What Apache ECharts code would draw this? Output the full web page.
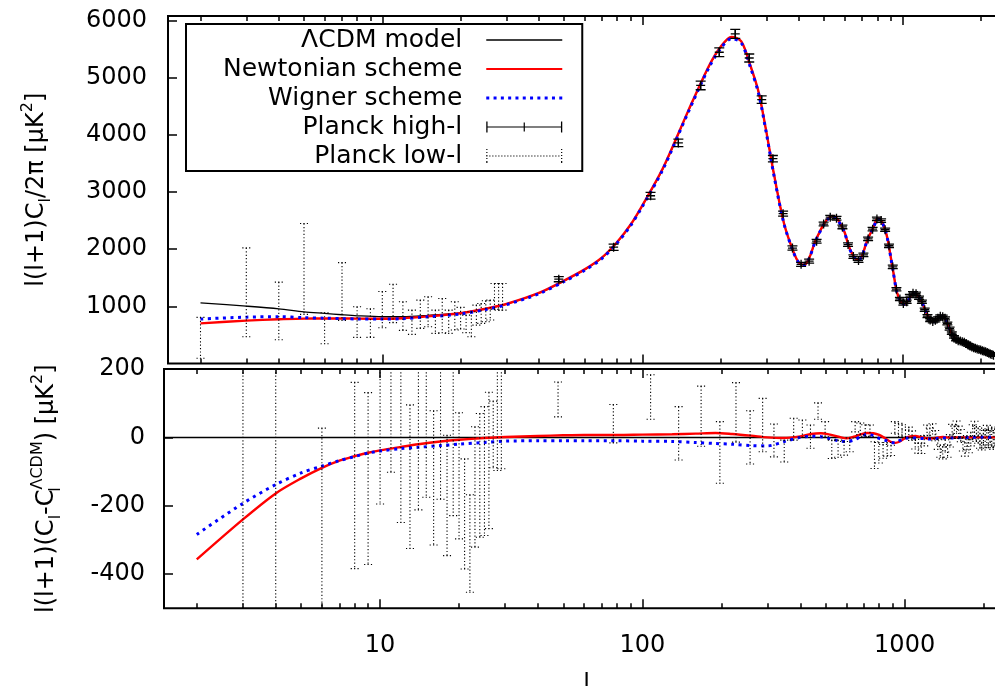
<!DOCTYPE html>
<html><head><meta charset="utf-8">
<script src="https://cdn.jsdelivr.net/npm/echarts@6/dist/echarts.min.js"></script>
<style>html,body{margin:0;padding:0;background:#fff}#c{width:995px;height:686px}</style>
</head><body><div id="c"></div>
<script>
// ---------- data ----------
const curveL = [2,3,4,5,6,7,8,10,12,15,20,25,30,40,50,60,70,80,90,100,120,150,180,200,220,240,260,280,300,320,350,380,400,420,440,460,480,500,520,540,560,580,600,620,640,660,680,700,720,740,760,780,800,820,840,860,880,900,920,950,980,1000,1020,1050,1080,1110,1140,1170,1200,1230,1260,1290,1320,1350,1380,1420,1450,1480,1510,1550,1600,1650,1700,1750,1800,1850,1900,1950,2000,2100,2200,2300];
const lcdm = [1062,1004,957,905,877,853,835,818,818,842,886,960,1040,1230,1445,1640,1850,2120,2420,2760,3410,4410,5190,5530,5705,5630,5210,4740,4040,3330,2460,1965,1760,1720,1860,2110,2290,2440,2540,2575,2535,2430,2290,2070,1920,1830,1810,1880,2050,2200,2300,2420,2530,2525,2450,2330,2150,1890,1640,1270,1110,1055,1040,1100,1190,1225,1195,1125,1030,920,810,745,735,760,800,822,800,730,620,520,430,398,382,356,322,292,270,250,235,200,158,130];
const newtonian = [702,750,775,785,788,788,785,782,792,826,879,958,1041,1234,1451,1647,1857,2127,2427,2768,3419,4420,5202,5543,5715,5637,5215,4743,4040,3329,2459,1966,1763,1728,1870,2121,2302,2450,2548,2580,2537,2428,2287,2068,1922,1836,1819,1891,2063,2213,2312,2430,2537,2528,2448,2322,2138,1876,1624,1256,1102,1052,1040,1103,1194,1229,1197,1126,1028,917,806,742,733,759,800,823,800,729,619,520,430,398,382,356,322,292,270,250,235,200,158,130];
const wigner = [778,811,819,801,793,785,779,778,785,817,866,945,1029,1220,1435,1630,1840,2110,2410,2749,3398,4396,5173,5511,5685,5608,5186,4715,4015,3305,2450,1960,1760,1723,1863,2112,2292,2438,2536,2568,2525,2419,2278,2060,1912,1830,1812,1888,2059,2207,2305,2420,2527,2519,2442,2318,2136,1874,1624,1260,1103,1052,1038,1098,1188,1223,1192,1122,1026,915,805,741,731,757,798,820,798,728,618,519,429,398,382,356,322,292,270,250,235,200,158,130];

// residual curves (bottom panel)
const resL = [2,3,4,5,6,7,8,9,10,12,14,17,20,25,30,40,50,60,80,100,130,160,190,220,260,300,345,400,440,480,520,560,600,640,680,720,760,800,840,880,920,960,1000,1050,1100,1150,1200,1250,1300,1400,1500,1600,1800,2000,2200,2400];
const resNewtonian = [-357,-240,-164,-120,-89,-68,-55,-45,-38,-28,-20,-12,-7,-2,1,4,6,7,7,8,9,11,13,10,5,0,-2,3,10,12,8,2,-3,2,9,13,12,7,-2,-12,-16,-12,-3,3,4,1,-2,-4,-2,1,-1,0,0,0,0,0];
const resWigner = [-284,-193,-138,-104,-84,-68,-56,-46,-40,-33,-29,-24,-20,-15,-11,-10,-10,-10,-10,-11,-12,-15,-18,-20,-24,-25,-13,0,3,2,-4,-10,-12,-8,2,9,5,-3,-8,-14,-16,-9,-3,-2,-2,-3,-4,-5,-4,-2,-2,-1,0,0,0,0];

// Planck high-l binned (top panel)
const hiL = [47.7,77.5,107.5,137.5,167.5,197.5,227.5,257.5,287.5,317.5,347.5,377.5,407.5,437.5,467.5,497.5,527.5,557.5,587.5,617.5,647.5,677.5,707.5,737.5,767.5,797.5,827.5,857.5,887.5,917.5,947.5,977.5,1007.5,1037.5,1067.5,1097.5,1127.5,1157.5,1187.5,1217.5,1247.5,1277.5,1307.5,1337.5,1367.5,1397.5,1427.5,1457.5,1487.5,1517.5,1547.5,1577.5,1607.5,1637.5,1667.5,1697.5,1727.5,1757.5,1787.5,1817.5,1847.5,1877.5,1907.5,1937.5,1967.5,1997.5,2027.5,2057.5,2087.5,2117.5,2147.5,2177.5,2207.5,2237.5];
const hiV = [1475,2035,2935,3860,4865,5446,5768,5345,4617,3584,2622,2020,1735,1790,2140,2440,2560,2540,2390,2080,1870,1800,1900,2180,2350,2530,2500,2340,2060,1690,1300,1130,1050,1080,1180,1230,1220,1150,1080,940,830,760,735,755,790,825,820,790,700,610,530,465,420,400,395,380,370,350,325,305,290,275,265,255,245,235,225,215,205,192,180,168,158,145];
const hiE = [45,55,60,65,75,78,78,70,65,55,45,38,35,35,33,33,33,33,32,32,30,30,30,30,30,30,30,30,30,30,28,28,28,28,28,28,28,28,28,28,25,25,25,25,25,25,25,25,25,25,22,22,22,22,22,22,22,22,22,22,22,22,22,22,22,22,22,22,22,22,22,22,22,22];

// Planck low-l (top panel): lower / upper ends of bars
const lowL = [2,3,4,5,6,7,8,9,10,11,12,13,14,15,16,17,18,19,20,21,22,23,24,25,26,27,28,29];
const lowLo = [91,469,416,859,345,755,457,457,625,716,580,510,615,643,527,538,527,585,603,538,469,672,702,730,760,947,934,934];
const lowHi = [807,2023,1424,2449,888,1765,993,958,1260,1386,1080,934,1109,1167,934,1138,934,1080,982,847,905,1022,1051,1097,1109,1401,1401,1401];

// residual data (bottom panel)
const resLowL = [3,4,6,8,9,10,11,12,13,14,15,16,17,18,19,20,21,22,23,24,25,26,27,28,29];
const resLowLo = [-700,-700,-700,-384,-372,-195,-102,-249,-325,-212,-175,-315,-181,-346,-229,-297,-385,-453,-321,-292,-287,-267,-89,-97,-92];
const resLowHi = [300,300,27,161,131,300,300,300,95,300,300,78,300,6,300,72,-63,-168,31,70,90,132,106,300,300];
const resHiC = [111,40,118,12,62,-44,73,0,36,-9,-40,24,26,2,77,24,-35,-33,-32,-22,31,25,20,19,-52,-45,-41,-35,-38,29,25,20,10,15,5,-20,-31,-32,-10,21,12,25,5,-20,-40,-45,-25,-40,-10,20,15,30,15,5,-20,-35,-15,-25,-5,15,25,10,5,-10,-15,0,-5,10,0,-5,5,-10,0,-5];
const resHiE = [51,56,65,78,88,90,87,78,78,48,32,32,25,34,24,22,27,25,20,20,15,17,17,17,39,30,20,20,15,17,16,17,12,15,14,14,15,15,15,15,15,15,15,15,18,18,18,18,18,18,18,18,18,18,20,20,20,20,20,22,22,22,22,22,22,22,25,25,25,25,25,25,25,25];

// tick values
const xMajor = [10,100,1000];
const xMinor = [2,3,4,5,6,7,8,9,20,30,40,50,60,70,80,90,200,300,400,500,600,700,800,900,2000];
const yTopTicks = [1000,2000,3000,4000,5000,6000];
const yBotTicks = [-400,-200,0,200];

// ---------- chart ----------
const FONT = 'DejaVu Sans';
const chart = echarts.init(document.getElementById('c'), null, {renderer:'canvas'});
const plain = v => String(v);

function xAx(grid, pos, vals, len, extra) {
  return Object.assign({
    type:'log', logBase:10, gridIndex:grid, position:pos, min:1.5, max:2500,
    axisLine:{show:false, onZero:false}, splitLine:{show:false},
    axisTick:{show:true, inside:true, length:len, customValues:vals, lineStyle:{color:'#000', width:1.5}},
    axisLabel:{show:false}
  }, extra || {});
}

const richName = {
  m:{fontSize:24, fontFamily:FONT, color:'#000', lineHeight:34},
  sub:{fontSize:16, fontFamily:FONT, color:'#000', lineHeight:17, verticalAlign:'bottom'},
  sub0:{fontSize:16, fontFamily:FONT, color:'#000', lineHeight:17, verticalAlign:'bottom', width:0},
  sup:{fontSize:16, fontFamily:FONT, color:'#000', lineHeight:17, verticalAlign:'top'}
};

function renderHigh(params, api) {
  const l = api.value(0), v = api.value(1), e = api.value(2);
  const pt = api.coord([l, v + e]), pb = api.coord([l, v - e]), pc = api.coord([l, v]);
  const st = {stroke:'#000', lineWidth:1.3, fill:null};
  const cw = 5, ps = 4.5, x = pc[0];
  return {type:'group', children:[
    {type:'line', shape:{x1:x, y1:pt[1], x2:x, y2:pb[1]}, style:st},
    {type:'line', shape:{x1:x-cw, y1:pt[1], x2:x+cw, y2:pt[1]}, style:st},
    {type:'line', shape:{x1:x-cw, y1:pb[1], x2:x+cw, y2:pb[1]}, style:st},
    {type:'line', shape:{x1:x-ps, y1:pc[1], x2:x+ps, y2:pc[1]}, style:st},
    {type:'line', shape:{x1:x, y1:pc[1]-ps, x2:x, y2:pc[1]+ps}, style:st}
  ]};
}
function renderDotted(params, api) {
  const l = api.value(0), lo = api.value(1), hi = api.value(2);
  const pt = api.coord([l, hi]), pb = api.coord([l, lo]);
  const st = {stroke:'#000', lineWidth:1.1, lineDash:[1.2, 2.2], fill:null};
  const cw = 4, x = pt[0];
  return {type:'group', children:[
    {type:'line', shape:{x1:x, y1:pt[1], x2:x, y2:pb[1]}, style:st},
    {type:'line', shape:{x1:x-cw, y1:pt[1], x2:x+cw, y2:pt[1]}, style:st},
    {type:'line', shape:{x1:x-cw, y1:pb[1], x2:x+cw, y2:pb[1]}, style:st}
  ]};
}

// legend icons (drawn in a 76 x 14 box)
const iconLcdm = 'path://M0,0H76V1.3H0Z';
const iconNewt = 'path://M0,0H76V2.2H0Z';
let bl = 'path://';
for (let x = 0; x <= 73; x += 7.3) bl += 'M' + x.toFixed(1) + ',0h3v3h-3z ';
const iconWig = bl;
const iconHigh = 'path://M0,6.4H76V7.6H0Z M0,1.5H1.3V12.5H0Z M74.7,1.5H76V12.5H74.7Z M37.4,2.5H38.6V11.5H37.4Z';
let dots = 'path://';
for (let x = 0; x < 75; x += 3) dots += 'M' + x + ',6.5h1.2v1h-1.2z ';
for (let y = 0; y < 14; y += 3) dots += 'M0,' + y + 'h1.2v1h-1.2z M74.8,' + y + 'h1.2v1h-1.2z ';
dots += 'M0,13h1.2v1h-1.2z M74.8,13h1.2v1h-1.2z';
const iconLow = dots;

const option = {
  animation:false,
  backgroundColor:'#fff',
  grid:[
    {left:168, top:16, right:-11, height:347.5, outerBoundsMode:'none', containLabel:false, show:true, borderColor:'#000', borderWidth:2, backgroundColor:'transparent'},
    {left:164, top:369, right:-14, height:239.3, outerBoundsMode:'none', containLabel:false, show:true, borderColor:'#000', borderWidth:2, backgroundColor:'transparent'}
  ],
  legend:{
    left:186, top:24, orient:'vertical', align:'right', selectedMode:false,
    itemWidth:76, itemHeight:14, itemGap:3, padding:[3,20,2,37],
    borderColor:'#000', borderWidth:2, backgroundColor:'#fff',
    formatter: name => '{t|' + name + '}{s| }',
    textStyle:{fontFamily:FONT, fontSize:25, color:'#000', lineHeight:26,
      rich:{t:{fontFamily:FONT, fontSize:25, color:'#000', lineHeight:26}, s:{width:19, fontSize:25}}},
    data:[
      {name:'ΛCDM model', icon:iconLcdm}, {name:'Newtonian scheme', icon:iconNewt}, {name:'Wigner scheme', icon:iconWig},
      {name:'Planck high-l', icon:iconHigh}, {name:'Planck low-l', icon:iconLow}
    ]
  },
  xAxis:[
    xAx(0,'bottom',xMajor,9), xAx(0,'bottom',xMinor,5), xAx(0,'top',xMajor,9), xAx(0,'top',xMinor,5),
    xAx(1,'bottom',xMajor,9,{
      axisLabel:{show:true, customValues:xMajor, formatter:plain, fontFamily:FONT, fontSize:24, color:'#000', margin:25},
      name:'l', nameLocation:'middle', nameGap:64, nameTextStyle:{fontFamily:FONT, fontSize:24, color:'#000'}
    }),
    xAx(1,'bottom',xMinor,5), xAx(1,'top',xMajor,9), xAx(1,'top',xMinor,5)
  ],
  yAxis:[
    {type:'value', gridIndex:0, min:0, max:6080, position:'left',
     axisLine:{show:false, onZero:false}, splitLine:{show:false},
     axisTick:{show:true, inside:true, length:9, customValues:yTopTicks, lineStyle:{color:'#000', width:1.5}},
     axisLabel:{customValues:yTopTicks, formatter:plain, fontFamily:FONT, fontSize:24, color:'#000', margin:21},
     name:'{m|l(l+1)C}{sub|l}{m|/2π [μK}{sup|2}{m|]}', nameLocation:'middle', nameRotate:90, nameGap:114,
     nameTextStyle:{rich:richName}},
    {type:'value', gridIndex:1, min:-500, max:200, position:'left',
     axisLine:{show:false, onZero:false}, splitLine:{show:false},
     axisTick:{show:true, inside:true, length:9, customValues:yBotTicks, lineStyle:{color:'#000', width:1.5}},
     axisLabel:{customValues:yBotTicks, formatter:plain, fontFamily:FONT, fontSize:24, color:'#000', margin:19},
     name:'{m|l(l+1)(C}{sub|l}{m|-C}{sub0|l}{sup|ΛCDM}{m|) [μK}{sup|2}{m|]}', nameLocation:'middle', nameRotate:90, nameGap:100,
     nameTextStyle:{rich:richName}}
  ],
  series:[
    {name:'ΛCDM model', type:'line', xAxisIndex:0, yAxisIndex:0, showSymbol:false, symbol:'none', smooth:0.3,
     data:curveL.map((l,i)=>[l, lcdm[i]]), lineStyle:{color:'#000', width:1.3}, itemStyle:{color:'#000'}, z:2},
    {name:'Newtonian scheme', type:'line', xAxisIndex:0, yAxisIndex:0, showSymbol:false, symbol:'none', smooth:0.3,
     data:curveL.map((l,i)=>[l, newtonian[i]]), lineStyle:{color:'#ff0000', width:2.4}, itemStyle:{color:'#ff0000'}, z:3},
    {name:'Wigner scheme', type:'line', xAxisIndex:0, yAxisIndex:0, showSymbol:false, symbol:'none', smooth:0.3,
     data:curveL.map((l,i)=>[l, wigner[i]]), lineStyle:{color:'#0000ff', width:3, type:[3,4.5], cap:'butt'}, itemStyle:{color:'#0000ff'}, z:4},
    {name:'Planck high-l', type:'custom', xAxisIndex:0, yAxisIndex:0, clip:true, renderItem:renderHigh,
     encode:{x:0, y:1}, itemStyle:{color:'#000'},
     data:hiL.map((l,i)=>[l, hiV[i], hiE[i]]), z:5},
    {name:'Planck low-l', type:'custom', xAxisIndex:0, yAxisIndex:0, clip:true, renderItem:renderDotted,
     encode:{x:0, y:[1,2]}, itemStyle:{color:'#000'},
     data:lowL.map((l,i)=>[l, lowLo[i], lowHi[i]]), z:5},

    {name:'Newtonian scheme', type:'line', xAxisIndex:4, yAxisIndex:1, showSymbol:false, symbol:'none', smooth:0.3,
     data:resL.map((l,i)=>[l, resNewtonian[i]]), lineStyle:{color:'#ff0000', width:2.4}, itemStyle:{color:'#ff0000'}, z:3,
     markLine:{silent:true, symbol:['none','none'], label:{show:false}, lineStyle:{color:'#000', width:1.3, type:'solid'},
       data:[{yAxis:0}], z:2}},
    {name:'Wigner scheme', type:'line', xAxisIndex:4, yAxisIndex:1, showSymbol:false, symbol:'none', smooth:0.3,
     data:resL.map((l,i)=>[l, resWigner[i]]), lineStyle:{color:'#0000ff', width:3, type:[3,4.5], cap:'butt'}, itemStyle:{color:'#0000ff'}, z:4},
    {name:'Planck low-l', type:'custom', xAxisIndex:4, yAxisIndex:1, clip:true, renderItem:renderDotted,
     encode:{x:0, y:[1,2]}, itemStyle:{color:'#000'},
     data:resLowL.map((l,i)=>[l, resLowLo[i], resLowHi[i]]), z:5},
    {name:'Planck high-l', type:'custom', xAxisIndex:4, yAxisIndex:1, clip:true, renderItem:renderDotted,
     encode:{x:0, y:[1,2]}, itemStyle:{color:'#000'},
     data:hiL.map((l,i)=>[l, resHiC[i]-resHiE[i], resHiC[i]+resHiE[i]]), z:5}
  ]
};
chart.setOption(option);
</script>
</body></html>
